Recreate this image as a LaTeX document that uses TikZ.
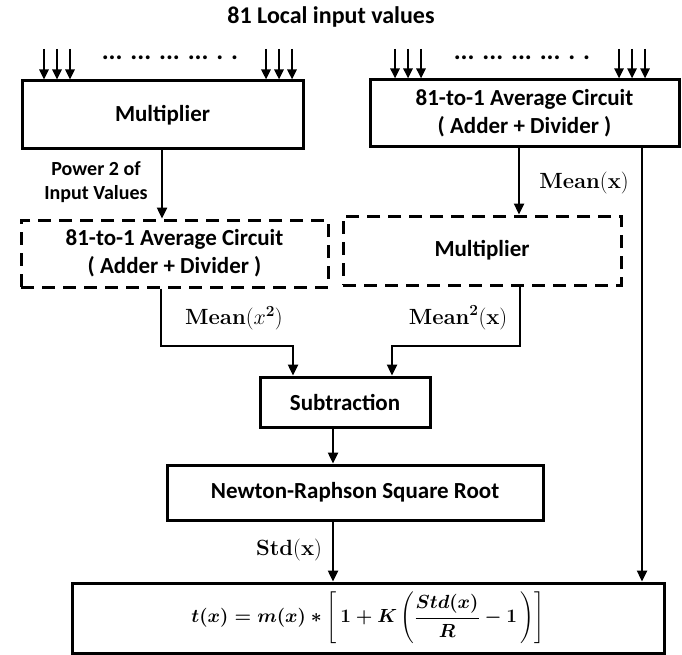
\RequirePackage{fix-cm}
\documentclass[tikz,border=0pt]{standalone}
\usepackage{amsmath}
\usepackage[no-math]{fontspec}
\setmainfont{Carlito}
\usetikzlibrary{arrows.meta}
\newcommand{\myfs}{\fontsize{23}{28}\selectfont}
\newcommand{\mysm}{\fontsize{20}{24}\selectfont}
\newsavebox{\formbox}
\begin{document}
\sbox{\formbox}{\fontsize{19}{23}\selectfont\boldmath$t(x) = m(x) * \left[\, 1 + K \left(\dfrac{Std(x)}{R} - 1 \,\right)\right]$}%
\begin{tikzpicture}[x=1pt,y=-1pt,
  blk/.style={draw, line width=3pt, rectangle, inner sep=0pt, font=\myfs\bfseries, align=center},
  dblk/.style={blk, dash pattern=on 13pt off 8pt},
  arr/.style={line width=2.4pt, -{Triangle[length=11pt,width=10pt]}},
  iarr/.style={line width=2.4pt, -{Triangle[length=10pt,width=9pt]}},
  lbl/.style={inner sep=0pt, font=\myfs\bfseries, align=center},
  mlbl/.style={inner sep=0pt, font=\fontsize{22}{26}\selectfont}]
\useasboundingbox (0,0) rectangle (682,655);

\node[lbl, font=\fontsize{24}{28}\selectfont\bfseries] (title) at (331,17) {81 Local input values};

\node[blk, minimum width=281pt, minimum height=68pt] (mult1) at (162.5,115) {Multiplier};
\node[blk, minimum width=309pt, minimum height=67pt] (avg1) at (524.5,113.5) {81-to-1 Average Circuit\\( Adder + Divider )};

\node[lbl, font=\fontsize{26}{30}\selectfont\bfseries] (dots1) at (170,58) {... ... ... ... . .};
\node[lbl, font=\fontsize{26}{30}\selectfont\bfseries] (dots2) at (522,58) {... ... ... ... . .};

\foreach \x [count=\i] in {44,57,70,266,279,292}{
  \coordinate (inl\i) at (\x,49);
  \draw[iarr] (inl\i) -- (inl\i |- mult1.north);
}
\foreach \x [count=\i] in {395,408,421,619,632,645}{
  \coordinate (inr\i) at (\x,49);
  \draw[iarr] (inr\i) -- (inr\i |- avg1.north);
}

\node[dblk, minimum width=307pt, minimum height=67pt] (avg2) at (174.5,253.5) {81-to-1 Average Circuit\\( Adder + Divider )};
\node[dblk, minimum width=278pt, minimum height=69pt] (mult2) at (482,250.5) {Multiplier};

\node[blk, minimum width=170pt, minimum height=50pt] (sub) at (345,402) {Subtraction};
\node[blk, minimum width=376pt, minimum height=55pt] (nr) at (355,492.5) {Newton-Raphson Square Root};
\node[draw, line width=3pt, rectangle, inner sep=0pt, minimum width=592pt, minimum height=70pt] (fbox) at (368,618) {\usebox{\formbox}};

% labels
\node[lbl, font=\mysm\bfseries] (pw) at (96,182) {Power 2 of\\Input Values};
\node[mlbl] (meanx) at (584,183) {$\mathbf{Mean}(\mathbf{x})$};
\node[mlbl] (meanx2) at (234,318) {$\mathbf{Mean}(x^{\mathbf{2}})$};
\node[mlbl] (mean2x) at (458,318) {$\mathbf{Mean}^{\mathbf{2}}(\mathbf{x})$};
\node[mlbl] (stdx) at (289,550) {$\mathbf{Std}(\mathbf{x})$};

% connectors
\coordinate (cA) at (162,0);
\coordinate (cB) at (519,0);
\coordinate (cC) at (642,0);
\coordinate (cD) at (161,346);
\coordinate (cE) at (293,346);
\coordinate (cF) at (520,346);
\coordinate (cG) at (392,346);
\coordinate (cH) at (333,0);

\draw[arr] (mult1.south -| cA) -- (avg2.north -| cA);
\draw[arr] (avg1.south -| cB) -- (mult2.north -| cB);
\draw[arr] (avg1.south -| cC) -- (fbox.north -| cC);
\draw[arr] (avg2.south -| cD) -- (cD) -- (cE) -- (sub.north -| cE);
\draw[arr] (mult2.south -| cF) -- (cF) -- (cG) -- (sub.north -| cG);
\draw[arr] (sub.south -| cH) -- (nr.north -| cH);
\draw[arr] (nr.south -| cH) -- (fbox.north -| cH);
\end{tikzpicture}
\end{document}
